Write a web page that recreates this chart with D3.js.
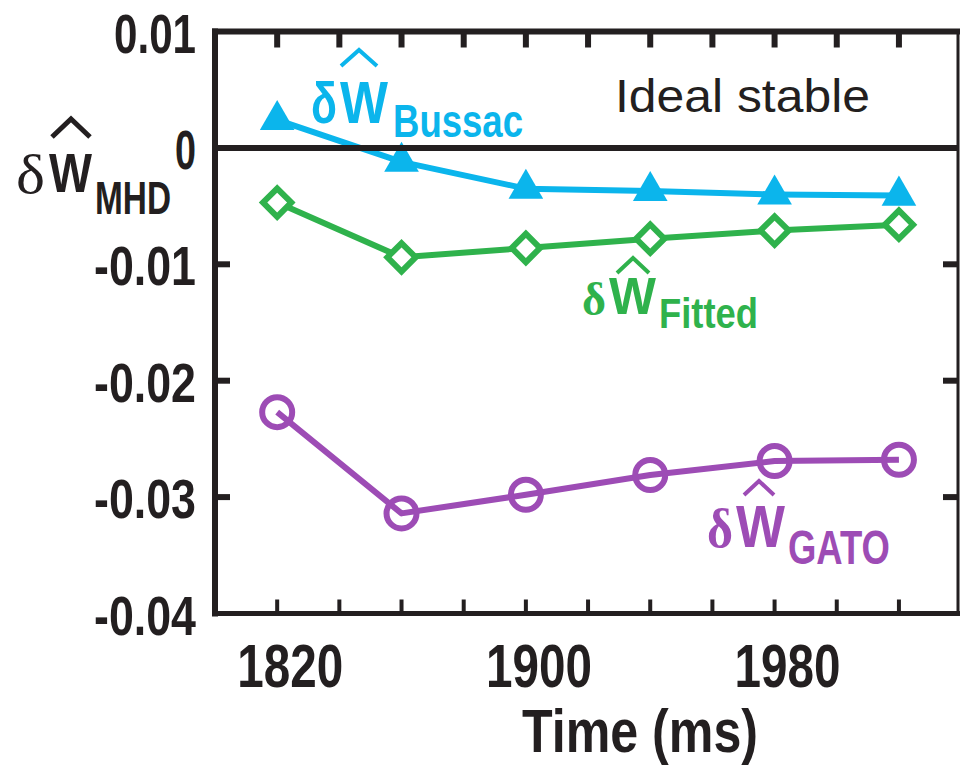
<!DOCTYPE html>
<html>
<head>
<meta charset="utf-8">
<script src="https://cdn.jsdelivr.net/npm/d3@7"></script>
<style>
  html, body { margin: 0; padding: 0; background: #fff; }
  svg { display: block; }
</style>
</head>
<body>
<svg id="chart" width="960" height="769"></svg>
<script>
// ---- data ----
const times = [1820, 1860, 1900, 1940, 1980, 2020];
const bussac = [0.0024, -0.0012, -0.0035, -0.0037, -0.0040, -0.0041];
const fitted = [-0.0047, -0.0094, -0.0086, -0.0078, -0.0071, -0.0066];
const gato = [-0.0227, -0.0314, -0.0298, -0.0281, -0.0269, -0.0268];
const xMinorTicks = [1820, 1840, 1860, 1880, 1900, 1920, 1940, 1960, 1980, 2000, 2020];
const xTickLabels = [1820, 1900, 1980];
const yTickValues = [0.01, 0, -0.01, -0.02, -0.03, -0.04];
const yTickLabels = ["0.01", "0", "-0.01", "-0.02", "-0.03", "-0.04"];
const yInnerTicks = [-0.01, -0.02, -0.03];

// ---- setup ----
const svg = d3.select("#chart");
const x = d3.scaleLinear().domain([1800, 2039]).range([215, 958]);
const y = d3.scaleLinear().domain([-0.04, 0.01]).range([613.5, 31.5]);

const CYAN = "#0bb5ec", GREEN = "#2fb24c", PURPLE = "#9d4cb5", BLACK = "#231f20";
const SANS = "'Liberation Sans', Arial, Helvetica, sans-serif";
const SERIF = "'Liberation Serif', 'Times New Roman', serif";

// text squeezed horizontally to a target width with a transform
function txt(g, o) {
  const t = g.append("text")
    .attr("x", 0).attr("y", 0)
    .attr("font-family", o.family || SANS)
    .attr("font-weight", o.weight || "bold")
    .attr("font-size", o.size)
    .attr("fill", o.fill || BLACK)
    .attr("text-anchor", o.anchor || "start")
    .text(o.text);
  let sx = 1;
  if (o.len) {
    const w = t.node().getComputedTextLength();
    if (w > 0) sx = o.len / w;
  }
  t.attr("transform", `translate(${o.x},${o.y}) scale(${sx},1)`);
  return t;
}
function hat(g, cx, top, halfW, h, color, sw) {
  g.append("path")
    .attr("d", `M${cx - halfW},${top + h} L${cx},${top} L${cx + halfW},${top + h}`)
    .attr("fill", "none").attr("stroke", color).attr("stroke-width", sw)
    .attr("stroke-linejoin", "miter");
}

// ---- frame & ticks ----
const frame = svg.append("g");
const x0 = x(1800), x1 = x(2039), yTop = y(0.01), yBot = y(-0.04);
frame.append("line").attr("x1", x0).attr("x2", x0).attr("y1", yTop - 3).attr("y2", yBot + 3)
  .attr("stroke", BLACK).attr("stroke-width", 6);
frame.append("line").attr("x1", x0 - 3).attr("x2", 960).attr("y1", yTop).attr("y2", yTop)
  .attr("stroke", BLACK).attr("stroke-width", 6);
frame.append("line").attr("x1", x1).attr("x2", x1).attr("y1", yTop).attr("y2", yBot)
  .attr("stroke", BLACK).attr("stroke-width", 3);
frame.append("line").attr("x1", x0).attr("x2", 960).attr("y1", yBot).attr("y2", yBot)
  .attr("stroke", BLACK).attr("stroke-width", 5);

xMinorTicks.forEach(t => {
  frame.append("line").attr("x1", x(t)).attr("x2", x(t)).attr("y1", yTop).attr("y2", yTop + 16)
    .attr("stroke", BLACK).attr("stroke-width", 6);
  frame.append("line").attr("x1", x(t)).attr("x2", x(t)).attr("y1", yBot).attr("y2", yBot - 14)
    .attr("stroke", BLACK).attr("stroke-width", 4);
});
yInnerTicks.forEach(v => {
  frame.append("line").attr("x1", x0).attr("x2", x0 + 15).attr("y1", y(v)).attr("y2", y(v))
    .attr("stroke", BLACK).attr("stroke-width", 6);
  frame.append("line").attr("x1", x1).attr("x2", x1 - 15).attr("y1", y(v)).attr("y2", y(v))
    .attr("stroke", BLACK).attr("stroke-width", 6);
});

// ---- tick labels ----
const labels = svg.append("g");
yTickValues.forEach((v, i) => {
  const s = yTickLabels[i];
  txt(labels, { x: 196, y: y(v) + 21, text: s, size: 56, anchor: "end",
    len: s.length === 1 ? 21 : (s[0] === "-" ? 102 : 82) });
});
xTickLabels.forEach(t => {
  txt(labels, { x: x(t) + 13, y: 687, text: String(t), size: 62, anchor: "middle", len: 106 });
});
txt(labels, { x: 640, y: 752, text: "Time (ms)", size: 62, anchor: "middle", len: 236 });

// y-axis title: δŴ_MHD
txt(labels, { x: 16, y: 193, text: "δ", size: 54, family: SERIF, weight: "normal", len: 29 });
txt(labels, { x: 49, y: 192, text: "W", size: 55, len: 43 });
hat(labels, 71, 119, 19, 18, BLACK, 5);
txt(labels, { x: 95, y: 214, text: "MHD", size: 46, len: 76 });

// "Ideal stable"
txt(labels, { x: 615, y: 112, text: "Ideal stable", size: 46, weight: "normal", len: 255 });

// ---- series ----
const line = d3.line().x(d => x(d[0])).y(d => y(d[1]));
const plot = svg.append("g");

function series(vals, color) {
  const pts = times.map((t, i) => [t, vals[i]]);
  plot.append("path").datum(pts).attr("d", line)
    .attr("fill", "none").attr("stroke", color).attr("stroke-width", 6)
    .attr("stroke-linejoin", "round");
  return pts;
}

const gPts = series(gato, PURPLE);
plot.selectAll(".circ").data(gPts).enter().append("circle")
  .attr("cx", d => x(d[0])).attr("cy", d => y(d[1])).attr("r", 15)
  .attr("fill", "none").attr("stroke", PURPLE).attr("stroke-width", 6);

const fPts = series(fitted, GREEN);
plot.selectAll(".dia").data(fPts).enter().append("path")
  .attr("d", d3.symbol().type(d3.symbolSquare).size(400))
  .attr("transform", d => `translate(${x(d[0])},${y(d[1])}) rotate(45)`)
  .attr("fill", "#fff").attr("stroke", GREEN).attr("stroke-width", 6);

const bPts = series(bussac, CYAN);
plot.selectAll(".tri").data(bPts).enter().append("path")
  .attr("d", d3.symbol().type(d3.symbolTriangle).size(520))
  .attr("transform", d => `translate(${x(d[0])},${y(d[1])})`)
  .attr("fill", CYAN);

// zero line
svg.append("line").attr("x1", x0).attr("x2", x1).attr("y1", y(0)).attr("y2", y(0))
  .attr("stroke", BLACK).attr("stroke-width", 6);

// ---- series labels ----
const sl = svg.append("g");
// Bussac
txt(sl, { x: 311, y: 123, text: "δ", size: 58, fill: CYAN, len: 26 });
txt(sl, { x: 340, y: 123, text: "W", size: 60, fill: CYAN, len: 48 });
hat(sl, 359, 50, 18, 16, CYAN, 4);
txt(sl, { x: 393, y: 137, text: "Bussac", size: 46, fill: CYAN, len: 130 });
// Fitted
txt(sl, { x: 582, y: 315, text: "δ", size: 46, family: SERIF, fill: GREEN, len: 24 });
txt(sl, { x: 609, y: 314, text: "W", size: 52, fill: GREEN, len: 47 });
hat(sl, 633, 258, 16, 15, GREEN, 4);
txt(sl, { x: 659, y: 328, text: "Fitted", size: 42, fill: GREEN, len: 99 });
// GATO
txt(sl, { x: 707, y: 547, text: "δ", size: 54, family: SERIF, fill: PURPLE, len: 26 });
txt(sl, { x: 736, y: 547, text: "W", size: 60, fill: PURPLE, len: 49 });
hat(sl, 759, 481, 15, 14, PURPLE, 4);
txt(sl, { x: 788, y: 564, text: "GATO", size: 48, fill: PURPLE, len: 102 });
</script>
</body>
</html>
